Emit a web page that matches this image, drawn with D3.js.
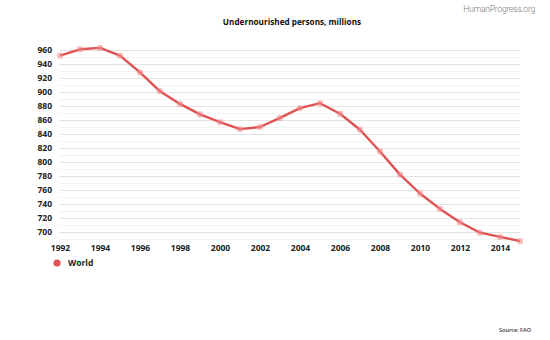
<!DOCTYPE html>
<html>
<head>
<meta charset="utf-8">
<script src="https://cdn.jsdelivr.net/npm/d3@7"></script>
<style>
  html, body { margin: 0; padding: 0; background: #fff; }
  svg { display: block; font-family: "Open Sans", "Noto Sans", sans-serif; }
</style>
</head>
<body>
<svg id="chart" width="550" height="340"></svg>
<script>
// Undernourished persons worldwide, millions (FAO)
const years = [1992, 1993, 1994, 1995, 1996, 1997, 1998, 1999, 2000, 2001, 2002, 2003,
               2004, 2005, 2006, 2007, 2008, 2009, 2010, 2011, 2012, 2013, 2014, 2015];
const world = [952, 961, 963, 952, 928, 901, 883, 868, 857, 847, 850, 863,
               877, 884, 869, 846, 815, 782, 755, 733, 714, 699, 693, 687];
const yTicks = [700, 720, 740, 760, 780, 800, 820, 840, 860, 880, 900, 920, 940, 960];
const xTicks = [1992, 1994, 1996, 1998, 2000, 2002, 2004, 2006, 2008, 2010, 2012, 2014];
const seriesName = "World";

const svg = d3.select("#chart");
const color = "#e05252";

const x = d3.scaleLinear().domain([1992, 2015]).range([60, 520]);
const y = d3.scaleLinear().domain([700, 960]).range([232, 50]);

// minor gridlines every 10
const minor = d3.range(690, 961, 10).filter(v => v % 20 !== 0);
svg.append("g").selectAll("line").data(minor).join("line")
  .attr("x1", x(1992)).attr("x2", x(2015))
  .attr("y1", d => y(d) + 0.5).attr("y2", d => y(d) + 0.5)
  .attr("stroke", "#f2f2f2").attr("stroke-width", 1);

// major gridlines with left labels
const yAxis = d3.axisLeft(y).tickValues(yTicks).tickSize(-(x(2015) - x(1992))).tickPadding(8);
const gy = svg.append("g").attr("transform", `translate(${x(1992)},0)`).call(yAxis);
gy.select(".domain").remove();
gy.selectAll(".tick line").attr("stroke", "#e2e2e2");
gy.selectAll(".tick text")
  .attr("fill", "#222").attr("font-size", 8.5).attr("font-weight", 700)
  .attr("font-family", "'Open Sans', sans-serif");

// x axis labels
const xAxis = d3.axisBottom(x).tickValues(xTicks).tickFormat(d3.format("d")).tickSize(0).tickPadding(0);
const gx = svg.append("g").attr("transform", "translate(0,245)").call(xAxis);
gx.select(".domain").remove();
gx.selectAll(".tick text")
  .attr("fill", "#222").attr("font-size", 8.5).attr("font-weight", 700)
  .attr("font-family", "'Open Sans', sans-serif");

// series line
const pts = years.map((yr, i) => [yr, world[i]]);
const line = d3.line().x(d => x(d[0])).y(d => y(d[1]));
svg.append("path").datum(pts)
  .attr("d", line).attr("fill", "none")
  .attr("stroke", color).attr("stroke-width", 2.4)
  .attr("stroke-linejoin", "round");

svg.append("g").selectAll("circle").data(pts).join("circle")
  .attr("cx", d => x(d[0])).attr("cy", d => y(d[1])).attr("r", 3.2)
  .attr("fill", "#f08a8a").attr("fill-opacity", 0.55);

// title
svg.append("text").attr("x", 292).attr("y", 25).attr("text-anchor", "middle")
  .attr("font-size", 8.2).attr("font-weight", 700).attr("fill", "#111")
  .text("Undernourished persons, millions");

// site mark
svg.append("text").attr("x", 535).attr("y", 12).attr("text-anchor", "end")
  .attr("font-size", 8.5).attr("font-weight", 300).attr("fill", "#777")
  .attr("font-family", "Roboto, sans-serif").attr("letter-spacing", -0.2)
  .text("HumanProgress.org");

// legend
svg.append("circle").attr("cx", 57).attr("cy", 263).attr("r", 3.6).attr("fill", color);
svg.append("text").attr("x", 68).attr("y", 266).attr("font-size", 8.5)
  .attr("font-weight", 700).attr("fill", "#222").text(seriesName);

// source
svg.append("text").attr("x", 531).attr("y", 332).attr("text-anchor", "end")
  .attr("font-size", 5.5).attr("font-weight", 600).attr("fill", "#333")
  .text("Source: FAO");
</script>
</body>
</html>
